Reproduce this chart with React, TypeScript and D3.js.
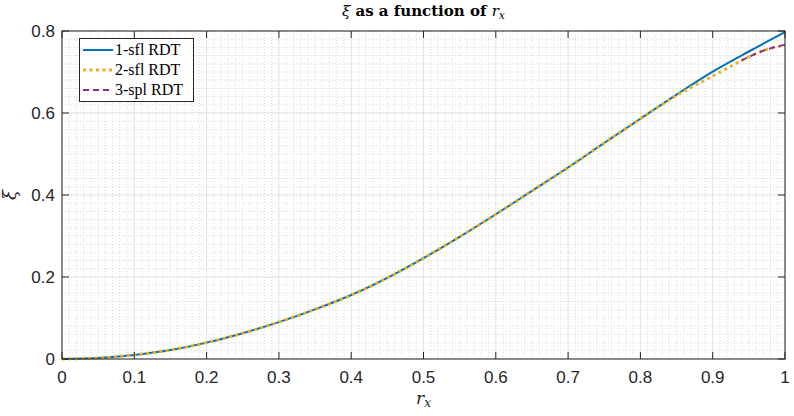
import React from "react";
import * as d3 from "d3";

const rx1 = [0, 0.05, 0.1, 0.15, 0.2, 0.25, 0.3, 0.35, 0.4, 0.45, 0.5, 0.55, 0.6, 0.65, 0.7, 0.75, 0.8, 0.85, 0.9, 0.95, 1.0];
const xi1 = [0, 0.0025, 0.010, 0.022, 0.040, 0.063, 0.090, 0.121, 0.156, 0.198, 0.246, 0.298, 0.353, 0.410, 0.467, 0.527, 0.586, 0.645, 0.701, 0.750, 0.797];
const rx2 = [0, 0.05, 0.1, 0.15, 0.2, 0.25, 0.3, 0.35, 0.4, 0.45, 0.5, 0.55, 0.6, 0.65, 0.7, 0.75, 0.8, 0.825, 0.85, 0.875, 0.9, 0.925, 0.95, 0.975, 1.0];
const xi2 = [0, 0.0025, 0.010, 0.022, 0.040, 0.063, 0.090, 0.121, 0.156, 0.198, 0.246, 0.298, 0.353, 0.410, 0.467, 0.527, 0.586, 0.615, 0.643, 0.667, 0.690, 0.714, 0.737, 0.755, 0.766];
const rx3 = [0.94, 0.95, 0.975, 1.0];
const xi3 = [0.728, 0.737, 0.755, 0.766];

const xTicks = [0, 0.1, 0.2, 0.3, 0.4, 0.5, 0.6, 0.7, 0.8, 0.9, 1];
const yTicks = [0, 0.2, 0.4, 0.6, 0.8];
const seriesNames = ["1-sfl RDT", "2-sfl RDT", "3-spl RDT"];

const W = 794, H = 416;
const L = 62, R = 785, T = 31, B = 359;

export default function App() {
  const x = d3.scaleLinear().domain([0, 1]).range([L, R]);
  const y = d3.scaleLinear().domain([0, 0.8]).range([B, T]);
  const line = (xs: number[], ys: number[]) =>
    d3.line<number>().x((_, i) => x(xs[i])).y((d) => y(d)).curve(d3.curveCatmullRom)(ys) || "";

  const minorX = d3.range(0, 101).map((i) => i / 100);
  const minorY = d3.range(0, 41).map((i) => i / 50);
  const axisColor = "#262626";
  const tickFont = "'Liberation Sans', Arial, sans-serif";
  const serif = "'DejaVu Serif', 'Liberation Serif', serif";

  const styles = [
    { color: "#0072BD", width: 2, dash: "none" },
    { color: "#EDB120", width: 3, dash: "3,3.5" },
    { color: "#7E2F8E", width: 1.8, dash: "6,4" },
  ];

  return (
    <svg width={W} height={H} style={{ position: "absolute", left: 0, top: 0, background: "#fff" }}>
      <rect x={0} y={0} width={W} height={H} fill="#fff" />
      {/* minor grid */}
      <g stroke="#bdbdbd" strokeWidth={0.7} strokeDasharray="1,2" opacity={0.8}>
        {minorX.map((v, i) => (
          <line key={"mx" + i} x1={x(v)} x2={x(v)} y1={T} y2={B} />
        ))}
        {minorY.map((v, i) => (
          <line key={"my" + i} x1={L} x2={R} y1={y(v)} y2={y(v)} />
        ))}
      </g>
      {/* major grid */}
      <g stroke="#dcdcdc" strokeWidth={0.6}>
        {xTicks.map((v, i) => (
          <line key={"gx" + i} x1={x(v)} x2={x(v)} y1={T} y2={B} />
        ))}
        {yTicks.map((v, i) => (
          <line key={"gy" + i} x1={L} x2={R} y1={y(v)} y2={y(v)} />
        ))}
      </g>
      {/* curves */}
      <path d={line(rx1, xi1)} fill="none" stroke={styles[0].color} strokeWidth={styles[0].width} />
      <path d={line(rx2, xi2)} fill="none" stroke={styles[1].color} strokeWidth={styles[1].width} strokeDasharray={styles[1].dash} />
      <path d={line(rx3, xi3)} fill="none" stroke={styles[2].color} strokeWidth={styles[2].width} strokeDasharray={styles[2].dash} />
      {/* axes box */}
      <rect x={L} y={T} width={R - L} height={B - T} fill="none" stroke={axisColor} strokeWidth={1} />
      <g stroke={axisColor} strokeWidth={1}>
        {xTicks.map((v, i) => (
          <g key={"tx" + i}>
            <line x1={x(v)} x2={x(v)} y1={B} y2={B - 7} />
            <line x1={x(v)} x2={x(v)} y1={T} y2={T + 7} />
          </g>
        ))}
        {yTicks.map((v, i) => (
          <g key={"ty" + i}>
            <line x1={L} x2={L + 7} y1={y(v)} y2={y(v)} />
            <line x1={R} x2={R - 7} y1={y(v)} y2={y(v)} />
          </g>
        ))}
      </g>
      {/* tick labels */}
      <g fontFamily={tickFont} fontSize={17} fill={axisColor}>
        {xTicks.map((v, i) => (
          <text key={"lx" + i} x={x(v)} y={B + 24} textAnchor="middle">
            {d3.format("~g")(v)}
          </text>
        ))}
        {yTicks.map((v, i) => (
          <text key={"ly" + i} x={L - 7} y={y(v) + 6} textAnchor="end">
            {d3.format("~g")(v)}
          </text>
        ))}
      </g>
      {/* title */}
      <text x={(L + R) / 2} y={16} textAnchor="middle" fontFamily={serif} fontSize={15} fontWeight="bold" fill="#000">
        <tspan fontStyle="italic" fontWeight="normal">ξ</tspan>
        <tspan> as a function of </tspan>
        <tspan fontStyle="italic" fontWeight="normal">r</tspan>
        <tspan fontStyle="italic" fontWeight="normal" fontSize={11} dy={3}>x</tspan>
      </text>
      {/* x label */}
      <text x={(L + R) / 2} y={404} textAnchor="middle" fontFamily={serif} fontSize={17} fill="#262626">
        <tspan fontStyle="italic">r</tspan>
        <tspan fontStyle="italic" fontSize={12} dy={3}>x</tspan>
      </text>
      {/* y label */}
      <text transform={`translate(16, ${(T + B) / 2}) rotate(-90)`} textAnchor="middle" fontFamily={serif} fontSize={18} fontStyle="italic" fill="#262626">
        ξ
      </text>
      {/* legend */}
      <g>
        <rect x={79.5} y={38.5} width={114} height={63} fill="#fff" stroke={axisColor} strokeWidth={1} />
        {seriesNames.map((name, i) => {
          const ly = 50 + i * 20;
          const s = styles[i];
          return (
            <g key={"lg" + i}>
              <line x1={83} x2={113} y1={ly} y2={ly} stroke={s.color} strokeWidth={s.width} strokeDasharray={s.dash === "none" ? undefined : s.dash} />
              <text x={115} y={ly + 5} fontFamily="'Liberation Serif', serif" fontSize={16} fill="#000">
                {name}
              </text>
            </g>
          );
        })}
      </g>
    </svg>
  );
}
